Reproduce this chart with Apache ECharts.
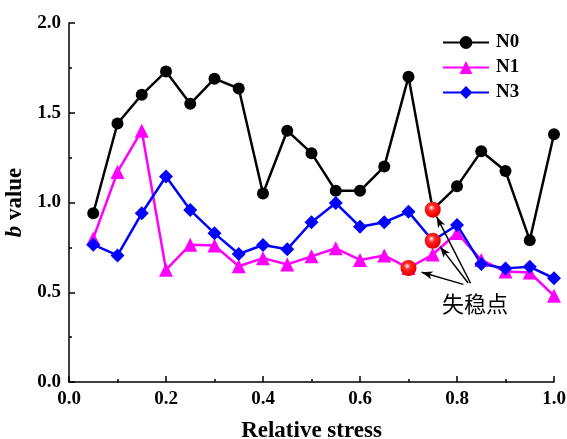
<!DOCTYPE html>
<html>
<head>
<meta charset="utf-8">
<script src="https://cdn.jsdelivr.net/npm/echarts@6/dist/echarts.min.js"></script>
<style>
  html, body { margin: 0; padding: 0; background: #fff; }
  #chart { width: 567px; height: 439px; }
</style>
</head>
<body>
<div id="chart"></div>
<script>
// Relative stress levels (x) and b values for the three groups
const stress = [0.05, 0.10, 0.15, 0.20, 0.25, 0.30, 0.35, 0.40, 0.45, 0.50,
                0.55, 0.60, 0.65, 0.70, 0.75, 0.80, 0.85, 0.90, 0.95, 1.00];
const n0 = [0.94, 1.44, 1.60, 1.73, 1.55, 1.69, 1.635, 1.05, 1.40, 1.275,
            1.065, 1.065, 1.20, 1.70, 0.96, 1.09, 1.285, 1.175, 0.79, 1.38];
const n1 = [0.80, 1.17, 1.40, 0.625, 0.765, 0.76, 0.645, 0.69, 0.655, 0.70,
            0.745, 0.68, 0.705, 0.635, 0.71, 0.83, 0.68, 0.615, 0.61, 0.48];
const n3 = [0.765, 0.705, 0.94, 1.145, 0.958, 0.828, 0.713, 0.763, 0.74, 0.89,
            0.997, 0.865, 0.89, 0.948, 0.787, 0.875, 0.657, 0.633, 0.642, 0.578];

// Instability points: which series and which stress index
const unstableSeries = ['N1', 'N3', 'N0'];
const unstableIndex = [13, 14, 14];
const unstableLabel = '失稳点';

const seriesData = { N0: n0, N1: n1, N3: n3 };
const pairs = arr => stress.map((x, i) => [x, arr[i]]);

const serif = '"Liberation Serif", "Times New Roman", serif';
const axisText = { color: '#000', fontFamily: serif, fontWeight: 'bold', fontSize: 19 };

const unstablePts = unstableSeries.map((s, k) => [stress[unstableIndex[k]], seriesData[s][unstableIndex[k]]]);

// Annotation arrows: tails gather above the label, heads stop just short of each red point
const arrowTails = [[0.813, 0.544], [0.823, 0.552], [0.828, 0.550]];
const arrowHeads = [[0.727, 0.611], [0.765, 0.754], [0.758, 0.921]];
const arrowLines = arrowTails.map((t, k) => [{ coord: t }, { coord: arrowHeads[k] }]);

// Glossy red sphere for the instability points
const sphere = new echarts.graphic.RadialGradient(0.42, 0.38, 0.66, [
  { offset: 0, color: '#ffffff' },
  { offset: 0.1, color: '#ffb4b4' },
  { offset: 0.3, color: '#ff2a2a' },
  { offset: 0.8, color: '#f20000' },
  { offset: 1, color: '#c80000' }
]);

const chart = echarts.init(document.getElementById('chart'), null, { renderer: 'canvas' });
chart.setOption({
  animation: false,
  backgroundColor: '#fff',
  grid: { left: 69, right: 13, top: 23, bottom: 57, containLabel: false, outerBoundsMode: 'none' },
  legend: {
    orient: 'vertical',
    left: 437,
    top: 28,
    itemWidth: 46,
    itemHeight: 16,
    itemGap: 6,
    data: ['N0', 'N1', 'N3'],
    textStyle: { color: '#000', fontFamily: serif, fontWeight: 'bold', fontSize: 19, padding: [0, 0, 0, 2] }
  },
  xAxis: {
    type: 'value',
    min: 0, max: 1.0, interval: 0.2,
    name: 'Relative stress',
    nameLocation: 'middle',
    nameGap: 38,
    nameTextStyle: { color: '#000', fontFamily: serif, fontWeight: 'bold', fontSize: 23 },
    axisLine: { lineStyle: { color: '#000', width: 1.5 } },
    axisTick: { inside: true, length: 6, lineStyle: { color: '#000', width: 1.5 } },
    minorTick: { show: true, splitNumber: 2, length: 3, lineStyle: { color: '#000', width: 1.5 } },
    axisLabel: Object.assign({ margin: 8, formatter: v => v.toFixed(1) }, axisText),
    splitLine: { show: false }
  },
  yAxis: {
    type: 'value',
    min: 0, max: 2.0, interval: 0.5,
    name: '{i|b} value',
    nameLocation: 'middle',
    nameGap: 36,
    nameRotate: 90,
    nameTextStyle: {
      color: '#000', fontFamily: serif, fontWeight: 'bold', fontSize: 23,
      rich: { i: { fontStyle: 'italic', fontWeight: 'bold', fontFamily: serif, fontSize: 23, color: '#000' } }
    },
    axisLine: { show: true, lineStyle: { color: '#000', width: 1.5 } },
    axisTick: { show: true, inside: true, length: 6, lineStyle: { color: '#000', width: 1.5 } },
    minorTick: { show: true, splitNumber: 2, length: 3, lineStyle: { color: '#000', width: 1.5 } },
    axisLabel: Object.assign({ margin: 8, formatter: v => v.toFixed(1) }, axisText),
    splitLine: { show: false }
  },
  series: [
    {
      name: 'N0', type: 'line', data: pairs(n0),
      symbol: 'circle', symbolSize: 12,
      lineStyle: { color: '#000', width: 2.5 },
      itemStyle: { color: '#000' }
    },
    {
      name: 'N1', type: 'line', data: pairs(n1),
      symbol: 'triangle', symbolSize: 14,
      lineStyle: { color: '#ff00ff', width: 2.5 },
      itemStyle: { color: '#ff00ff' }
    },
    {
      name: 'N3', type: 'line', data: pairs(n3),
      symbol: 'diamond', symbolSize: 14,
      lineStyle: { color: '#0000ff', width: 2.5 },
      itemStyle: { color: '#0000ff' }
    },
    {
      name: unstableLabel, type: 'scatter', data: unstablePts,
      symbol: 'circle', symbolSize: 16,
      itemStyle: { color: sphere, opacity: 1 },
      z: 5,
      markLine: {
        silent: true,
        symbol: ['none', 'arrow'],
        symbolSize: [6, 11],
        label: { show: false },
        lineStyle: { color: '#000', width: 1.5, type: 'solid', opacity: 1 },
        data: arrowLines
      }
    }
  ],
  graphic: [{
    type: 'text',
    left: 442,
    top: 293,
    style: { text: unstableLabel, fill: '#000', font: '22px "Noto Sans CJK SC"' }
  }]
});
</script>
</body>
</html>
